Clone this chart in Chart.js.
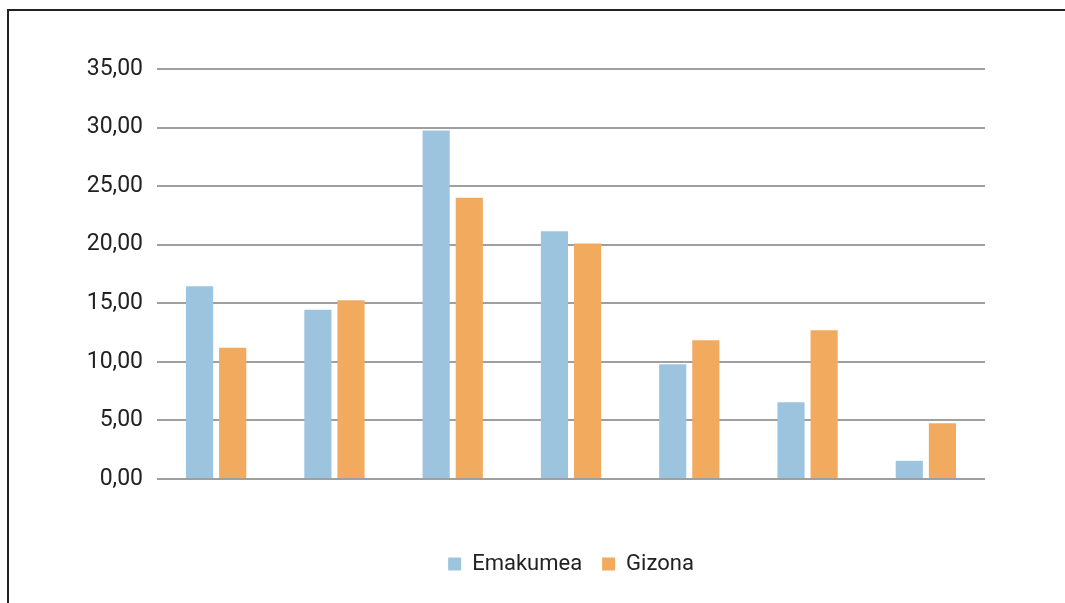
<!DOCTYPE html>
<html>
<head>
<meta charset="utf-8">
<script src="https://cdn.jsdelivr.net/npm/chart.js@4.4.1/dist/chart.umd.min.js"></script>
<style>
  html, body { margin: 0; padding: 0; background: #fff; overflow: hidden; }
  #frame { position: absolute; left: 7px; top: 9px; width: 1200px; height: 800px;
           border-left: 2px solid #222; border-top: 2px solid #222; }
  #wrap { position: absolute; left: 0; top: 0; width: 1065px; height: 603px; }
</style>
</head>
<body>
<div id="frame"></div>
<div id="wrap"><canvas id="chart"></canvas></div>
<script>
const categories = ['1', '2', '3', '4', '5', '6', '7'];
const emakumea = [16.45, 14.45, 29.75, 21.15, 9.8, 6.55, 1.55];
const gizona = [11.2, 15.25, 24.0, 20.1, 11.85, 12.7, 4.75];
const yTicks = [0, 5, 10, 15, 20, 25, 30, 35];

const fontFamily = 'Roboto, "Open Sans", sans-serif';

new Chart(document.getElementById('chart'), {
  type: 'bar',
  data: {
    labels: categories,
    datasets: [
      { label: 'Emakumea', data: emakumea, backgroundColor: '#9dc4df', borderWidth: 0 },
      { label: 'Gizona', data: gizona, backgroundColor: '#f2aa5f', borderWidth: 0 },
    ],
  },
  options: {
    responsive: true,
    maintainAspectRatio: false,
    animation: false,
    categoryPercentage: 0.56,
    barPercentage: 0.82,
    layout: { padding: { left: 0, right: 80, top: 69, bottom: 18 } },
    plugins: {
      legend: {
        position: 'bottom',
        fullSize: false,
        labels: {
          color: '#222',
          boxWidth: 13,
          boxHeight: 13,
          padding: 20,
          font: { family: fontFamily, size: 22 },
        },
      },
      tooltip: { enabled: false },
    },
    scales: {
      x: {
        ticks: { display: false },
        grid: { display: false },
        border: { display: false },
        afterFit: axis => { axis.height = 54; },
      },
      y: {
        min: 0,
        max: 35,
        afterBuildTicks: axis => { axis.ticks = yTicks.map(v => ({ value: v })); },
        afterFit: axis => { axis.width = 157; },
        ticks: {
          color: '#222',
          padding: 14,
          font: { family: fontFamily, size: 23 },
          callback: v => v.toFixed(2).replace('.', ','),
        },
        grid: { color: '#9f9f9f', lineWidth: 2, drawTicks: false },
        border: { display: false },
      },
    },
  },
});
</script>
</body>
</html>
